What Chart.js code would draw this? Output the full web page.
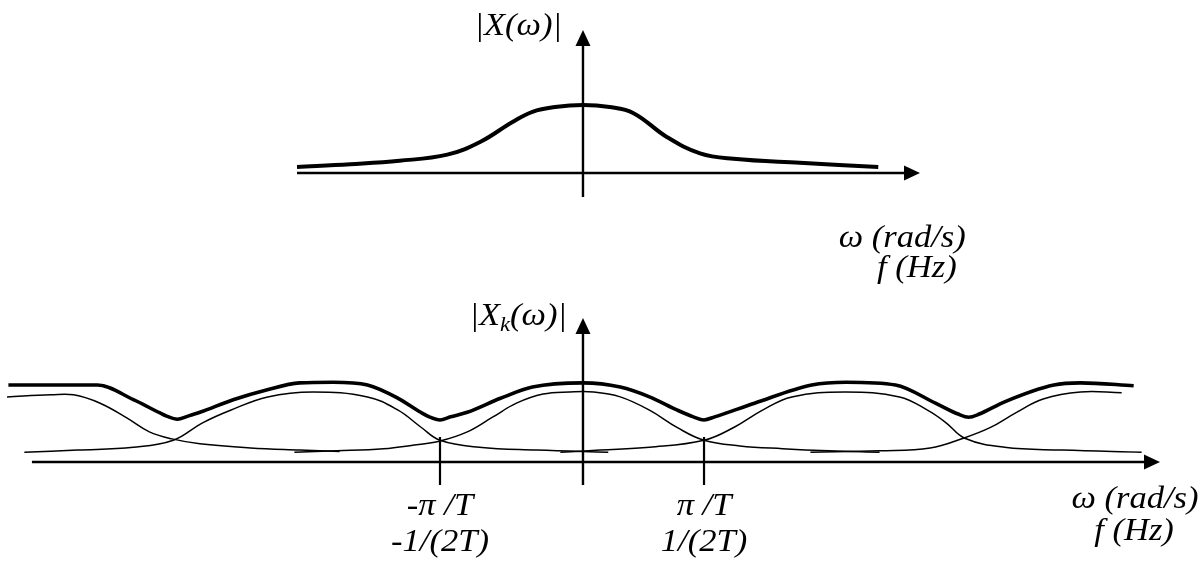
<!DOCTYPE html>
<html>
<head>
<meta charset="utf-8">
<script src="https://cdn.jsdelivr.net/npm/chart.js@4.4.1/dist/chart.umd.min.js"></script>
<style>
  html, body { margin: 0; padding: 0; background: #fff; }
  #wrap { width: 1204px; height: 563px; }
</style>
</head>
<body>
<div id="wrap"><canvas id="spectrum" width="1204" height="563"></canvas></div>
<script>
// frequency in units of pi/T, magnitude relative to the peak of one copy of |X(w)|

// upper plot: |X(w)|
const topW   = [-2.15, -1.75, -1.38, -1.02, -0.77, -0.53, -0.38, -0.21, 0, 0.20, 0.38, 0.63, 0.88, 1.13, 1.63, 2.22];
const topMag = [0.09, 0.13, 0.18, 0.27, 0.46, 0.75, 0.90, 0.97, 1.0, 0.97, 0.88, 0.53, 0.29, 0.21, 0.15, 0.09];

// lower plot: shifted copies of |X(w)| (thin lines)
const copyAW   = [-4.33, -4.0, -3.83, -3.63, -3.43, -3.26, -3.09, -2.88, -2.50, -2.13, -1.83];
const copyAMag = [0.93, 0.96, 0.96, 0.84, 0.63, 0.43, 0.33, 0.26, 0.20, 0.17, 0.15];
const copyBW   = [-4.20, -3.80, -3.38, -3.08, -2.86, -2.65, -2.37, -2.03, -1.62, -1.39, -1.22, -1.075, -0.78, -0.35, 0.19];
const copyBMag = [0.14, 0.17, 0.21, 0.31, 0.56, 0.74, 0.93, 1.0, 0.93, 0.74, 0.50, 0.31, 0.21, 0.17, 0.14];
const copyCW   = [-2.17, -1.85, -1.5, -1.28, -1.075, -0.87, -0.68, -0.5, -0.3, -0.1, 0.08, 0.28, 0.5, 0.71, 0.91, 1.18, 1.5, 1.85, 2.23];
const copyCMag = [0.14, 0.16, 0.19, 0.24, 0.30, 0.43, 0.64, 0.84, 0.97, 1.0, 1.0, 0.93, 0.74, 0.49, 0.31, 0.23, 0.19, 0.16, 0.14];
const copyDW   = [-0.17, 0.13, 0.50, 0.91, 1.14, 1.35, 1.57, 1.97, 2.38, 2.59, 2.73, 2.87, 3.17, 3.60, 4.20];
const copyDMag = [0.14, 0.17, 0.21, 0.31, 0.50, 0.74, 0.93, 1.0, 0.93, 0.74, 0.56, 0.34, 0.21, 0.17, 0.14];
const copyEW   = [1.71, 2.23, 2.61, 2.86, 3.06, 3.26, 3.46, 3.74, 4.05];
const copyEMag = [0.14, 0.16, 0.20, 0.34, 0.49, 0.71, 0.90, 1.0, 0.99];

// lower plot: |Xk(w)|, the sum (thick line)
const sumW   = [-4.32, -3.65, -3.38, -3.18, -3.13, -3.05, -2.97, -2.88, -2.63, -2.38, -2.13, -1.88, -1.62, -1.39,
                -1.22, -1.155, -1.075, -0.995, -0.87, -0.62, -0.38, 0, 0.28, 0.50, 0.71, 0.83, 0.91, 0.99,
                1.29, 1.72, 1.98, 2.35, 2.65, 2.82, 2.90, 2.98, 3.17, 3.54, 3.74, 4.14];
const sumMag = [1.10, 1.10, 0.89, 0.70, 0.655, 0.61, 0.655, 0.71, 0.89, 1.03, 1.13, 1.14, 1.10, 0.91,
                0.71, 0.645, 0.60, 0.645, 0.71, 0.91, 1.07, 1.13, 1.07, 0.93, 0.74, 0.645, 0.60, 0.645,
                0.84, 1.10, 1.14, 1.10, 0.84, 0.685, 0.64, 0.685, 0.86, 1.10, 1.13, 1.09];

// ticks on the lower axis
const tickW = [-1.075, 0.91];
const tickLabels = [["-π /T", "-1/(2T)"], ["π /T", "1/(2T)"]];
const axisLabel = ["ω (rad/s)", "f (Hz)"];

const pts = (xs, ys) => xs.map((x, i) => ({ x: x, y: ys[i] }));

function curve(xs, ys, yAxis, width, monotone) {
  return {
    data: pts(xs, ys),
    yAxisID: yAxis,
    showLine: true,
    borderColor: "#000",
    borderWidth: width,
    pointRadius: 0,
    tension: 0.4,
    cubicInterpolationMode: monotone ? "monotone" : "default",
    fill: false,
    clip: false,
  };
}

const FONT = '"Liberation Serif", serif';
const STRETCH = 1.08;
const SIZE = 32;
const SUB = 21;

function text(ctx, s, x, y, align, size) {
  ctx.save();
  ctx.font = "italic " + size + "px " + FONT;
  ctx.translate(x, y);
  ctx.scale(STRETCH, 1);
  ctx.textAlign = align;
  ctx.textBaseline = "alphabetic";
  ctx.fillText(s, 0, 0);
  ctx.restore();
}

function line(ctx, x1, y1, x2, y2, w) {
  ctx.beginPath();
  ctx.lineWidth = w;
  ctx.moveTo(x1, y1);
  ctx.lineTo(x2, y2);
  ctx.stroke();
}

function arrowUp(ctx, x, y) {
  ctx.beginPath();
  ctx.moveTo(x, y);
  ctx.lineTo(x - 7.5, y + 16);
  ctx.lineTo(x + 7.5, y + 16);
  ctx.closePath();
  ctx.fill();
}

function arrowRight(ctx, x, y) {
  ctx.beginPath();
  ctx.moveTo(x, y);
  ctx.lineTo(x - 16, y - 7.5);
  ctx.lineTo(x - 16, y + 7.5);
  ctx.closePath();
  ctx.fill();
}

const axesPlugin = {
  id: "axesPlugin",
  beforeDatasetsDraw(chart) {
    const ctx = chart.ctx;
    const x = chart.scales.x, yt = chart.scales.yTop, yb = chart.scales.yBot;
    ctx.save();
    ctx.strokeStyle = "#000";
    ctx.fillStyle = "#000";
    ctx.lineCap = "butt";

    // upper plot axes
    const x0 = x.getPixelForValue(0);
    line(ctx, x.getPixelForValue(-2.15), yt.getPixelForValue(0), x.getPixelForValue(2.42), yt.getPixelForValue(0), 2.4);
    arrowRight(ctx, x.getPixelForValue(2.534), yt.getPixelForValue(0));
    line(ctx, x0, yt.getPixelForValue(-0.353), x0, yt.getPixelForValue(1.95), 2.4);
    arrowUp(ctx, x0, yt.getPixelForValue(2.103));

    // lower plot axes
    line(ctx, x.getPixelForValue(-4.143), yb.getPixelForValue(0), x.getPixelForValue(4.22), yb.getPixelForValue(0), 2.4);
    arrowRight(ctx, x.getPixelForValue(4.338), yb.getPixelForValue(0));
    line(ctx, x0, yb.getPixelForValue(-0.329), x0, yb.getPixelForValue(1.9), 2.4);
    arrowUp(ctx, x0, yb.getPixelForValue(2.057));

    tickW.forEach((w) => {
      const tx = x.getPixelForValue(w);
      line(ctx, tx, yb.getPixelForValue(0.357), tx, yb.getPixelForValue(-0.329), 2.2);
    });
    ctx.restore();
  },
  afterDraw(chart) {
    const ctx = chart.ctx;
    const x = chart.scales.x, yt = chart.scales.yTop, yb = chart.scales.yBot;
    ctx.save();
    ctx.fillStyle = "#000";

    // upper plot labels
    text(ctx, "|X(ω)|", x.getPixelForValue(-0.158), yt.getPixelForValue(2.03), "right", SIZE);
    text(ctx, axisLabel[0], x.getPixelForValue(2.40), yt.getPixelForValue(-1.088), "center", SIZE);
    text(ctx, axisLabel[1], x.getPixelForValue(2.51), yt.getPixelForValue(-1.529), "center", SIZE);

    // lower plot y label with subscript k
    ctx.font = "italic " + SIZE + "px " + FONT;
    const a = ctx.measureText("|X").width;
    const c = ctx.measureText("(ω)|").width;
    ctx.font = "italic " + SUB + "px " + FONT;
    const b = ctx.measureText("k").width;
    const right = x.getPixelForValue(-0.12);
    const base = yb.getPixelForValue(1.957);
    const start = right - (a + b + c) * STRETCH;
    text(ctx, "|X", start, base, "left", SIZE);
    text(ctx, "k", start + a * STRETCH, base + 6, "left", SUB);
    text(ctx, "(ω)|", start + (a + b) * STRETCH, base, "left", SIZE);

    // tick labels
    tickW.forEach((w, i) => {
      const tx = x.getPixelForValue(w);
      text(ctx, tickLabels[i][0], tx, yb.getPixelForValue(-0.757), "center", SIZE);
      text(ctx, tickLabels[i][1], tx, yb.getPixelForValue(-1.271), "center", SIZE);
    });
    text(ctx, axisLabel[0], x.getPixelForValue(4.15), yb.getPixelForValue(-0.657), "center", SIZE);
    text(ctx, axisLabel[1], x.getPixelForValue(4.143), yb.getPixelForValue(-1.114), "center", SIZE);
    ctx.restore();
  },
};

new Chart(document.getElementById("spectrum"), {
  type: "scatter",
  data: {
    datasets: [
      curve(topW, topMag, "yTop", 4, false),
      curve(copyAW, copyAMag, "yBot", 1.5, false),
      curve(copyBW, copyBMag, "yBot", 1.5, false),
      curve(copyCW, copyCMag, "yBot", 1.5, false),
      curve(copyDW, copyDMag, "yBot", 1.5, false),
      curve(copyEW, copyEMag, "yBot", 1.5, false),
      curve(sumW, sumMag, "yBot", 3.6, true),
    ],
  },
  options: {
    responsive: false,
    animation: false,
    devicePixelRatio: 1,
    layout: { padding: 0 },
    plugins: { legend: { display: false }, tooltip: { enabled: false } },
    scales: {
      x: { type: "linear", min: -4.383, max: 4.669, display: false },
      yTop: { type: "linear", min: -5.735, max: 2.544, display: false },
      yBot: { type: "linear", min: -1.443, max: 6.6, display: false },
    },
  },
  plugins: [axesPlugin],
});
</script>
</body>
</html>
